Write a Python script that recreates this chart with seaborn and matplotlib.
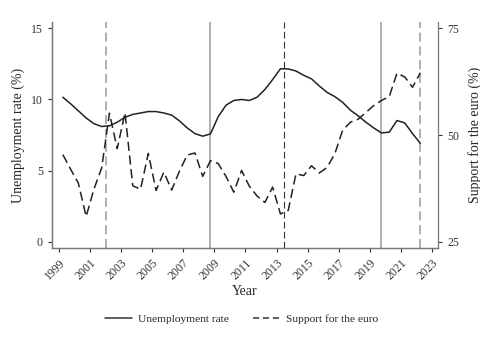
import numpy as np
import pandas as pd
import matplotlib
matplotlib.use("Agg")
import matplotlib.pyplot as plt
import seaborn as sns
from matplotlib.lines import Line2D

# Data (semiannual)
years = [1999.25 + 0.5 * i for i in range(47)]

unemployment = [10.16, 9.7, 9.2, 8.7, 8.3, 8.1, 8.15, 8.4, 8.75, 8.95,
                9.05, 9.15, 9.15, 9.05, 8.9, 8.5, 8.0, 7.6, 7.42, 7.58,
                8.8, 9.6, 9.93, 10.0, 9.93, 10.16, 10.7, 11.4, 12.16, 12.15,
                12.0, 11.7, 11.45, 10.95, 10.5, 10.2, 9.8, 9.25, 8.85, 8.4,
                8.0, 7.65, 7.7, 8.52, 8.35, 7.6, 6.92]

support = [45.4, 42.0, 38.7, 30.9, 37.3, 42.3, 55.1, 46.8, 55.2, 38.1,
           37.3, 45.7, 37.0, 41.3, 37.1, 41.5, 45.3, 45.8, 40.3, 44.0,
           43.3, 40.3, 36.6, 41.7, 38.0, 35.7, 34.2, 37.8, 31.5, 32.3,
           40.9, 40.5, 42.8, 41.1, 42.4, 45.6, 51.1, 53.0, 53.7, 55.3,
           56.9, 58.1, 59.0, 64.5, 63.6, 61.2, 64.6]

# Event markers
solid_events = [2008.75, 2019.7]
dashed_events = [2002.0, 2022.2]
dark_dashed_events = [2013.5]

x_ticks = list(range(1999, 2024, 2))

df = pd.DataFrame({"Year": years, "Unemployment": unemployment, "Support": support})

sns.set_style("ticks")
plt.rcParams["font.family"] = ["Liberation Serif", "DejaVu Serif"]

fig = plt.figure(figsize=(4.81, 3.38), dpi=100)
ax = fig.add_axes([0.108, 0.266, 0.803, 0.669])
ax2 = ax.twinx()

for x in solid_events:
    ax.axvline(x, color="#9a9a9a", lw=1.1, zorder=1)
for x in dashed_events:
    ax.axvline(x, color="#9a9a9a", lw=1.1, ls=(0, (6, 3)), zorder=1)
for x in dark_dashed_events:
    ax.axvline(x, color="#333333", lw=0.8, ls=(0, (6, 3)), zorder=1)

sns.lineplot(data=df, x="Year", y="Unemployment", ax=ax, color="#222222", lw=1.1)
sns.lineplot(data=df, x="Year", y="Support", ax=ax2, color="#222222", lw=1.1,
             linestyle=(0, (6, 3)))

ax.set_xlim(1998.55, 2023.4)
ax.set_ylim(-0.45, 15.45)
ax2.set_ylim(25 - 0.45 * 10 / 3, 25 + 15.45 * 10 / 3)

ax.set_yticks([0, 5, 10, 15])
ax2.set_yticks([25, 50, 75])
ax.set_xticks(x_ticks)
ax.set_xticklabels([str(t) for t in x_ticks], rotation=45, ha="right",
                   rotation_mode="anchor")

ax.set_xlabel("Year", fontsize=10, labelpad=2)
ax.set_ylabel("Unemployment rate (%)", fontsize=10)
ax2.set_ylabel("Support for the euro (%)", fontsize=10, rotation=90, labelpad=6)

for a in (ax, ax2):
    a.tick_params(labelsize=8.5, colors="#333333", length=3, width=0.8)
    for s in a.spines.values():
        s.set_color("#777777")
        s.set_linewidth(0.9)
    a.spines["top"].set_visible(False)
ax.spines["right"].set_visible(False)

handles = [Line2D([], [], color="#333333", lw=1.1),
           Line2D([], [], color="#333333", lw=1.1, ls=(0, (4, 2.5)))]
fig.legend(handles, ["Unemployment rate", "Support for the euro"],
           loc="center", bbox_to_anchor=(0.503, 0.056), ncol=2, frameon=False,
           fontsize=8.2, handlelength=2.3, handletextpad=0.6, columnspacing=2.1)

fig.savefig("out.png", dpi=100)
